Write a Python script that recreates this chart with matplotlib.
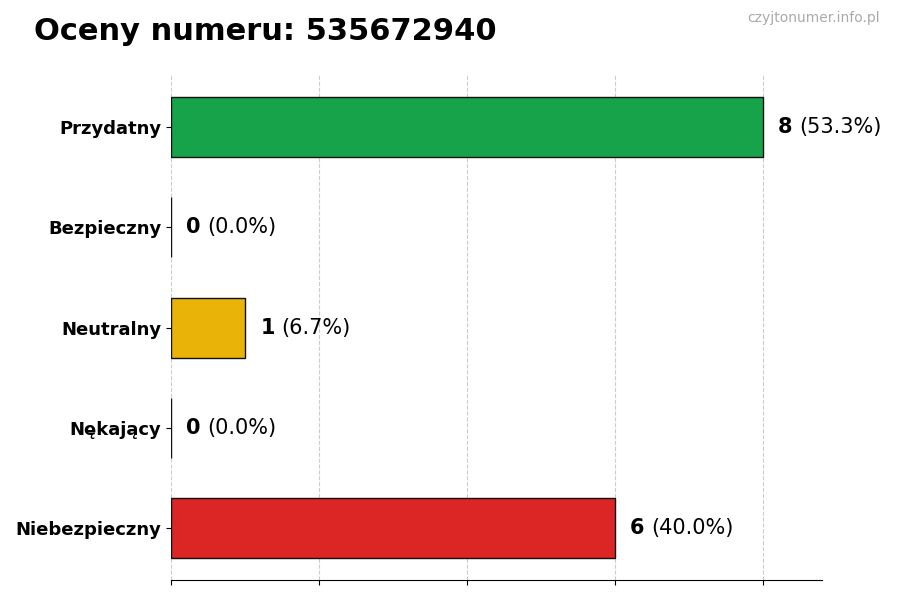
import matplotlib
matplotlib.use('Agg')
import matplotlib.pyplot as plt
from matplotlib.transforms import offset_copy

categories = ['Przydatny', 'Bezpieczny', 'Neutralny', 'Nękający', 'Niebezpieczny']
counts = [8, 0, 1, 0, 6]
colors = ['#16a34a', '#9ca3af', '#eab308', '#f97316', '#dc2626']

total = sum(counts)
fig = plt.figure(figsize=(9, 6), dpi=100)
ax = fig.add_axes([0.19, 0.033, 0.723, 0.842])

y = list(range(len(categories)))[::-1]
ax.barh(y, counts, height=0.6, color=colors, edgecolor='#111111', linewidth=1)
ax.set_yticks(y)
ax.set_yticklabels(categories, fontsize=13, fontweight='bold')
ax.set_xlim(0, 8.8)
ax.set_ylim(-0.52, 4.52)
ax.set_xticks([0, 2, 4, 6, 8])
ax.set_xticklabels([])
ax.grid(axis='x', linestyle='--', color='#cccccc', linewidth=0.8)
ax.set_axisbelow(True)
for s in ['top', 'right', 'left']:
    ax.spines[s].set_visible(False)

fig.canvas.draw()
r = fig.canvas.get_renderer()
for yi, c in zip(y, counts):
    t = ax.annotate(str(c), (c, yi), xytext=(11, 0), textcoords='offset points',
                    fontsize=15, fontweight='bold', va='center', ha='left')
    bb = t.get_window_extent(r)
    x_px = bb.x1
    xd = ax.transData.inverted().transform((x_px, 0))[0]
    ax.annotate(f'({c / total * 100:.1f}%)', (xd, yi), xytext=(5, 0),
                textcoords='offset points', fontsize=15, va='center', ha='left')

fig.text(0.038, 0.948, 'Oceny numeru: 535672940', fontsize=22, fontweight='bold', va='center')
fig.text(0.978, 0.97, 'czyjtonumer.info.pl', fontsize=10, color='#aaaaaa', ha='right', va='center')

fig.savefig('out.png', dpi=100)
